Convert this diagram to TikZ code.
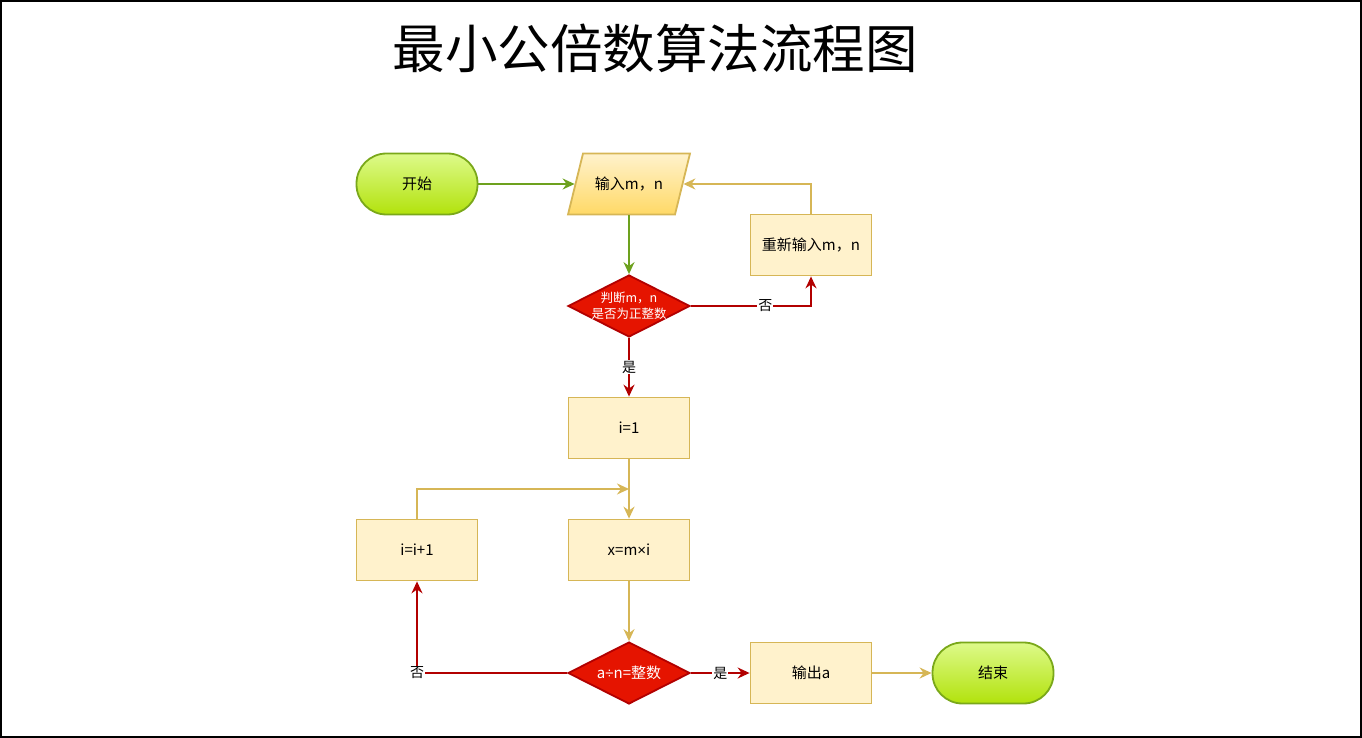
\documentclass[tikz,border=0pt]{standalone}
\usepackage{fontspec}
\setmainfont{Noto Sans CJK SC}
\newfontfamily\latf{Liberation Sans}
\usetikzlibrary{shapes.geometric,arrows.meta}
\definecolor{gline}{HTML}{6DA11E}
\definecolor{gborder}{HTML}{7AA81A}
\definecolor{gtop}{HTML}{DDFA8A}
\definecolor{gbot}{HTML}{B2E20C}
\definecolor{yborder}{HTML}{D6B656}
\definecolor{yfill}{HTML}{FFF2CC}
\definecolor{ybot}{HTML}{FFD966}
\definecolor{rfill}{HTML}{E51400}
\definecolor{rline}{HTML}{B20000}
\tikzset{
  base/.style={inner sep=0pt, align=center, font=\fontsize{15}{18}\selectfont, line width=1.8pt},
  term/.style={base, draw=gborder, top color=gtop, bottom color=gbot, rounded corners=30pt, minimum width=121pt, minimum height=61pt},
  iotext/.style={base, minimum width=107pt, minimum height=61pt},
  proc/.style={base, draw=yborder, fill=yfill, minimum width=121pt, minimum height=61pt},
  dec/.style={base, diamond, aspect=2, draw=rline, fill=rfill, text=white, minimum width=122pt, minimum height=62pt},
  dectext/.style={inner sep=0pt, align=center, text=white, font=\fontsize{12.5}{16}\selectfont},
  tip/.style={-{Stealth[length=12pt,width=11pt,inset=4pt]}},
  gl/.style={tip, draw=gline, line width=1.8pt},
  yl/.style={tip, draw=yborder, line width=1.8pt},
  rl/.style={tip, draw=rline, line width=1.8pt},
  lab/.style={fill=white, inner sep=1pt, font=\fontsize{14}{16}\selectfont, text=black},
}
\begin{document}
\begin{tikzpicture}[x=1pt,y=-1pt]
\path[use as bounding box] (0,0) rectangle (1362,738);
\draw[line width=2pt] (1,1) rectangle (1361,737);
\node (title) at (655,48) {\fontsize{52.5}{60}\selectfont 最小公倍数算法流程图};
\node[term] (start) at (417,184) {开始};
\path[draw=yborder, line width=1.8pt, top color=yfill, bottom color=ybot, line join=miter]
  (583,153.5) -- (690,153.5) -- (675,214.5) -- (568,214.5) -- cycle;
\node[iotext] (input) at (629,184) {输入m，n};
\node[proc] (reinput) at (811,245) {重新输入m，n};
\node[dec] (d1) at (629,306) {};
\node[dectext] (d1t) at (d1.center) {判断m，n\\是否为正整数};
\node[proc] (i1) at (629,428) {i=1};
\node[proc] (inc) at (417,550) {i=i+1};
\node[proc] (x) at (629,550) {x=m{\latf ×}i};
\node[dec] (d2) at (629,673) {a{\latf ÷}n=整数};
\node[proc] (out) at (811,673) {输出a};
\node[term] (end) at (993,673) {结束};
\coordinate (j) at (629,489);

\draw[gl] (start.east) -- (input.west);
\draw[gl] (input.south) -- (d1.north);
\draw[rl] (d1.east) -| node[lab, pos=0.31] {否} (reinput.south);
\draw[yl] (reinput.north) |- (input.east);
\draw[rl] (d1.south) -- node[lab] {是} (i1.north);
\draw[yl] (i1.south) -- (x.north);
\draw[yl] (inc.north) |- (j);
\draw[yl] (x.south) -- (d2.north);
\draw[rl] (d2.west) -| node[lab, pos=0.5] {否} (inc.south);
\draw[rl] (d2.east) -- node[lab] {是} (out.west);
\draw[yl] (out.east) -- (end.west);
\end{tikzpicture}
\end{document}
